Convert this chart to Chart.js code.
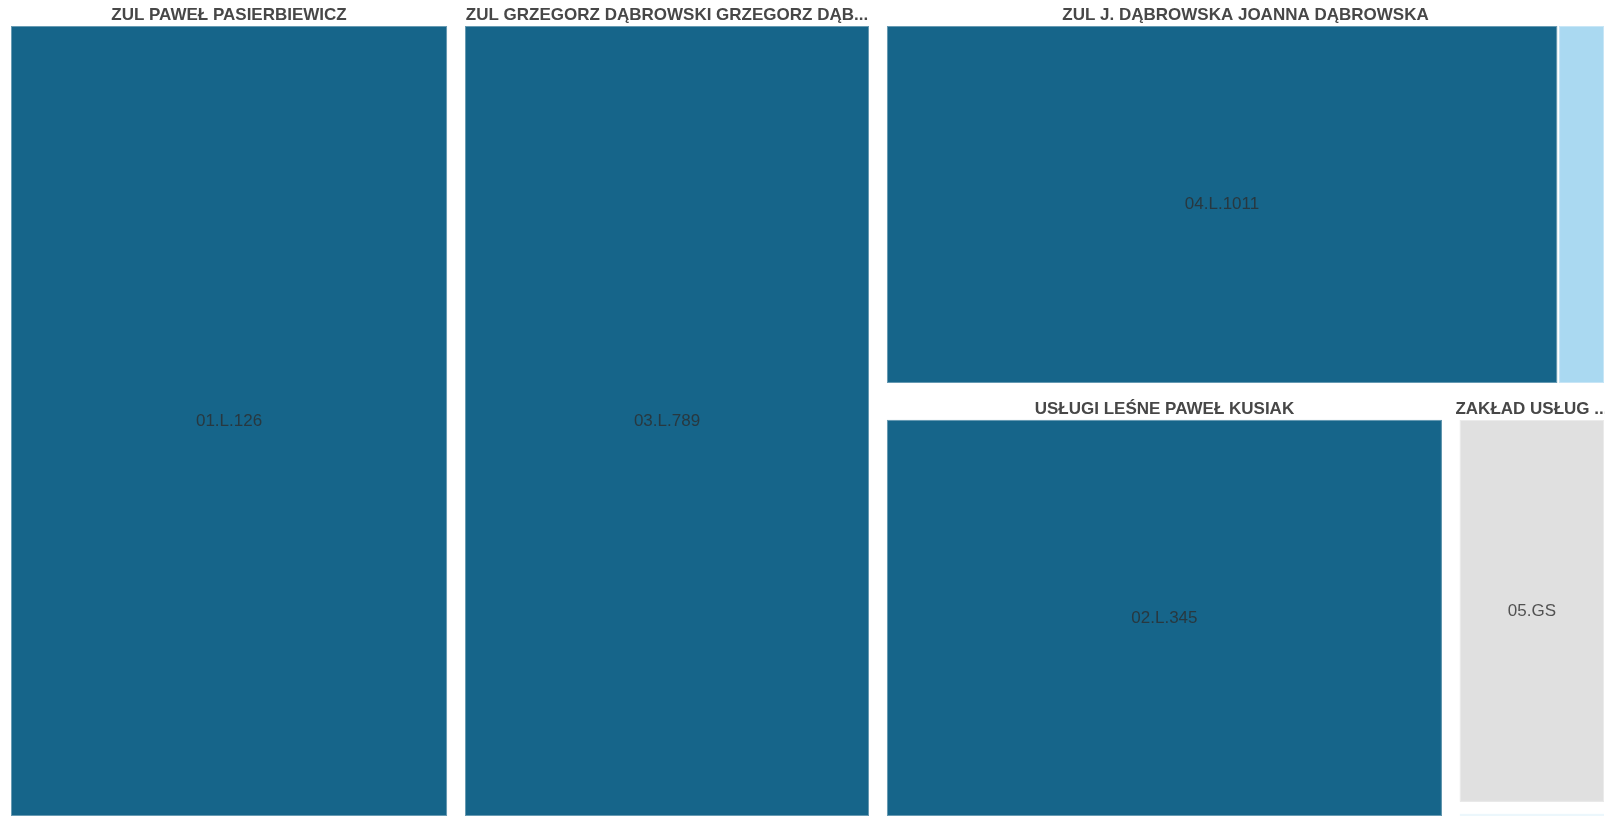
<!DOCTYPE html>
<html lang="pl">
<head>
<meta charset="utf-8">
<title>Treemap</title>
<script src="https://cdn.jsdelivr.net/npm/chart.js@4.4.1/dist/chart.umd.min.js"></script>
<style>
  html, body { margin: 0; padding: 0; background: #fff; overflow: hidden; }
  #wrap { width: 1605px; height: 816px; position: relative; }
</style>
</head>
<body>
<div id="wrap"><canvas id="chartTree"></canvas></div>
<script>
// -----------------------------------------------
// 1) Dane: grupy (wykonawcy) i elementy (kody)
// -----------------------------------------------
const groupNames = [
  "ZUL PAWEŁ PASIERBIEWICZ",
  "ZUL GRZEGORZ DĄBROWSKI GRZEGORZ DĄB...",
  "ZUL J. DĄBROWSKA JOANNA DĄBROWSKA",
  "USŁUGI LEŚNE PAWEŁ KUSIAK",
  "ZAKŁAD USŁUG ...",
  ""                      // grupa poza kadrem (niewidoczna nazwa)
];

const itemGroup  = [0, 1, 2, 2, 3, 4, 5];
const itemCodes  = ["01.L.126", "03.L.789", "04.L.1011", "", "02.L.345", "05.GS", ""];
const itemValues = [3755, 3490, 2707, 189, 2481, 679, 23];
const itemColors = ["#16658a", "#16658a", "#16658a", "#aad9f1", "#16658a", "#e0e0e0", "#aad9f1"];

// -----------------------------------------------
// 2) Squarified treemap (Bruls) - zwraca prostokąty w kolejności wejścia
// -----------------------------------------------
function worst(row, side) {
  const sum = row.reduce((a, b) => a + b, 0);
  const max = Math.max(...row), min = Math.min(...row);
  const s2 = side * side, sum2 = sum * sum;
  return Math.max(s2 * max / sum2, sum2 / (s2 * min));
}

function squarify(values, rect) {
  const total = values.reduce((a, b) => a + b, 0);
  const order = values.map((v, i) => i).sort((a, b) => values[b] - values[a]);
  const areas = order.map(i => values[i] / total * rect.w * rect.h);
  const out = new Array(values.length);
  let r = { ...rect };
  let i = 0;
  while (i < areas.length) {
    const side = Math.min(r.w, r.h);
    const row = [areas[i]];
    let j = i + 1;
    while (j < areas.length && worst(row.concat(areas[j]), side) <= worst(row, side)) {
      row.push(areas[j]);
      j++;
    }
    const sum = row.reduce((a, b) => a + b, 0);
    if (r.w >= r.h) {
      const t = sum / r.h;
      let y = r.y;
      row.forEach((a, k) => {
        const h = a / t;
        out[order[i + k]] = { x: r.x, y, w: t, h };
        y += h;
      });
      r = { x: r.x + t, y: r.y, w: r.w - t, h: r.h };
    } else {
      const t = sum / r.w;
      let x = r.x;
      row.forEach((a, k) => {
        const w = a / t;
        out[order[i + k]] = { x, y: r.y, w, h: t };
        x += w;
      });
      r = { x: r.x, y: r.y + t, w: r.w, h: r.h - t };
    }
    i = j;
  }
  return out;
}

// jaśniejszy odcień do obramowania komórek
function lighten(hex, f) {
  const n = parseInt(hex.slice(1), 16);
  const c = [(n >> 16) & 255, (n >> 8) & 255, n & 255].map(v => Math.round(v + (255 - v) * f));
  return `rgb(${c[0]},${c[1]},${c[2]})`;
}

// -----------------------------------------------
// 3) Plugin rysujący komórki na podstawie skal wykresu
// -----------------------------------------------
const PAD = 8;      // odstęp boczny grupy
const PAD_B = 10;   // odstęp dolny grupy
const CAP = 25;     // wysokość nagłówka grupy

const treemapPlugin = {
  id: "treemapCells",
  beforeDatasetsDraw(chart) {
    const { ctx, scales } = chart;
    const x0 = scales.x.getPixelForValue(0), x1 = scales.x.getPixelForValue(1);
    const y0 = scales.y.getPixelForValue(0), y1 = scales.y.getPixelForValue(1);
    const region = {
      x: x0 - PAD - 1,
      y: y0,
      w: (x1 - x0) + 2 * (PAD + 1),
      h: (y1 - y0) + PAD_B + 1
    };

    const groupValues = groupNames.map((g, gi) =>
      itemValues.reduce((s, v, k) => s + (itemGroup[k] === gi ? v : 0), 0));
    const boxes = squarify(groupValues, region);

    ctx.save();
    boxes.forEach((box, gi) => {
      const members = itemValues.map((v, k) => k).filter(k => itemGroup[k] === gi);
      const inner = { x: box.x + PAD, y: box.y + CAP, w: box.w - 2 * PAD, h: box.h - CAP - PAD_B };

      if (inner.h <= 4) {
        // za mała grupa: tylko blade tło
        ctx.fillStyle = "rgba(170,217,241,0.22)";
        ctx.fillRect(box.x + PAD + 1, box.y + 1, box.w - 2 * PAD - 2, box.h - 2);
        return;
      }

      const cells = squarify(members.map(k => itemValues[k]), inner);
      cells.forEach((c, m) => {
        const k = members[m];
        const r = { x: c.x + 1, y: c.y + 1, w: c.w - 2, h: c.h - 2 };
        ctx.fillStyle = itemColors[k];
        ctx.fillRect(r.x, r.y, r.w, r.h);
        ctx.strokeStyle = lighten(itemColors[k], 0.35);
        ctx.lineWidth = 1;
        ctx.strokeRect(r.x + 0.5, r.y + 0.5, r.w - 1, r.h - 1);

        const label = itemCodes[k];
        ctx.font = "17px 'Liberation Sans', Arial, sans-serif";
        if (label && ctx.measureText(label).width < r.w - 6 && r.h > 20) {
          ctx.fillStyle = "rgba(45,45,45,0.8)";
          ctx.textAlign = "center";
          ctx.textBaseline = "middle";
          ctx.fillText(label, r.x + r.w / 2, r.y + r.h / 2);
        }
      });

      // nagłówek grupy
      ctx.font = "bold 17px 'Liberation Sans', Arial, sans-serif";
      ctx.fillStyle = "#474747";
      ctx.textAlign = "center";
      ctx.textBaseline = "middle";
      ctx.fillText(groupNames[gi], box.x + box.w / 2, box.y + 15);
    });
    ctx.restore();
  }
};

// -----------------------------------------------
// 4) Wykres
// -----------------------------------------------
const chart = new Chart(document.getElementById("chartTree"), {
  type: "scatter",
  data: { datasets: [{ data: [], pointRadius: 0 }] },
  options: {
    responsive: true,
    maintainAspectRatio: false,
    animation: false,
    layout: { padding: { left: 11, right: 1, top: 0, bottom: 0 } },
    scales: {
      x: { type: "linear", min: 0, max: 1, display: false },
      y: { type: "linear", min: 0, max: 1, reverse: true, display: false }
    },
    plugins: {
      legend: { display: false },
      tooltip: { enabled: false }
    }
  },
  plugins: [treemapPlugin]
});
</script>
</body>
</html>
